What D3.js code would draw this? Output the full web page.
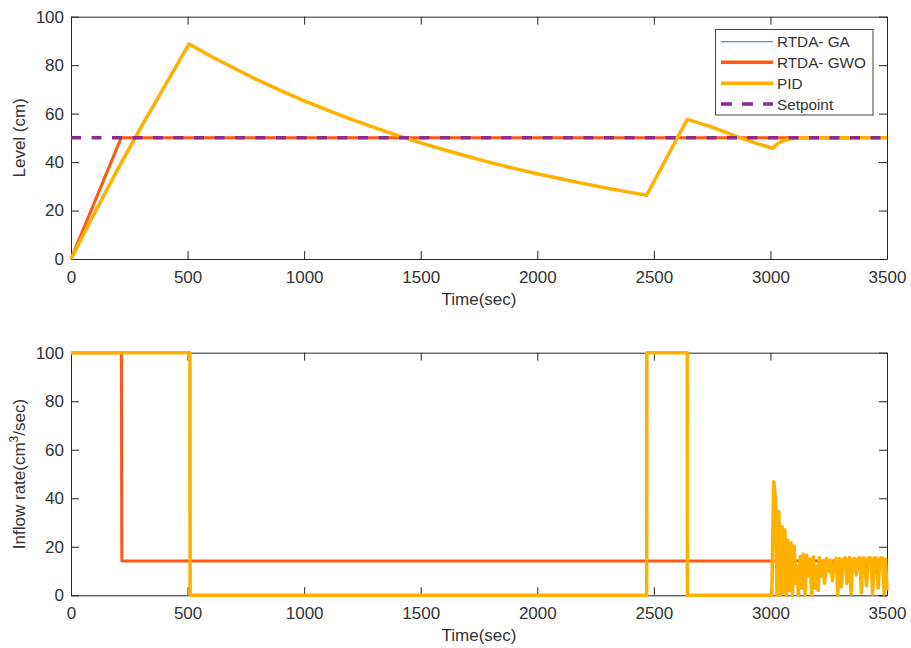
<!DOCTYPE html>
<html>
<head>
<meta charset="utf-8">
<script src="https://cdn.jsdelivr.net/npm/d3@7"></script>
<style>
  body { margin: 0; background: #fff; }
  text { font-family: "Liberation Sans", Arial, sans-serif; fill: #333; }
</style>
</head>
<body>
<div id="chart-area"></div>
<script>
// chart size
var width = 911,
	height = 648;

// ---- data ----
var timeTicks = [0, 500, 1000, 1500, 2000, 2500, 3000, 3500];
var valueTicks = [0, 20, 40, 60, 80, 100];

// top plot: tank level (cm) - pairs of [time, value]
var levelGA = [[0, 0], [216, 50], [3500, 50]];
var levelGWO = [[0, 0], [215, 50], [3500, 50]];
var levelPID = [[0, 0], [100, 18.8], [200, 37], [300, 54.3], [400, 71], [506, 88.7],
	[600, 83.7], [700, 78.7], [800, 73.9], [900, 69.5], [1000, 65.3], [1100, 61.4],
	[1200, 57.7], [1300, 54.3], [1400, 51], [1500, 47.9], [1600, 45.1], [1700, 42.4],
	[1800, 39.8], [1900, 37.4], [2000, 35.2], [2100, 33.1], [2200, 31.1], [2300, 29.2],
	[2400, 27.5], [2469, 26.3], [2643, 57.6], [2750, 54.4], [2859, 50.4], [2950, 47.4],
	[3010, 45.7], [3030, 47.6], [3050, 48.7], [3080, 49.5], [3120, 49.95], [3500, 50]];
var setpoint = [[0, 50], [3500, 50]];

// bottom plot: inflow rate (cm3/sec)
var inflowGA = [[0, 100], [217, 100], [219, 14.1], [3500, 14.1]];
var inflowGWO = [[0, 100], [216, 100], [218, 14.1], [3500, 14.1]];
var inflowPID = [[0, 100], [510, 100], [511, 0], [2469, 0], [2470, 100], [2643, 100], [2644, 0],
	[3006, 0], [3014, 46.8], [3022, 40], [3028, 0], [3036, 34.5], [3043, 0], [3050, 28.3],
	[3056, 1], [3062, 27], [3068, 0], [3074, 22.8], [3080, 2], [3088, 21.7], [3094, 0],
	[3102, 20.3], [3108, 5], [3114, 12], [3120, 0], [3128, 16], [3134, 3], [3141, 17],
	[3148, 0], [3156, 16.6], [3163, 8], [3170, 15], [3177, 0], [3184, 15.9], [3192, 3],
	[3200, 12], [3205, 2], [3210, 15.6], [3218, 8], [3225, 14], [3232, 5], [3241, 15.2],
	[3250, 10], [3258, 14.5], [3266, 6], [3274, 14], [3282, 15.2], [3289, 0], [3296, 15.2],
	[3304, 3.5], [3312, 14.8], [3321, 15.4], [3328, 4.9], [3339, 15.6], [3346, 0.5],
	[3353, 15], [3360, 15.2], [3368, 8.4], [3376, 15.4], [3384, 15.4], [3390, 1],
	[3396, 15.4], [3404, 15.4], [3412, 4], [3420, 15.4], [3432, 15.4], [3438, 0.5],
	[3446, 15.4], [3454, 15.4], [3462, 3], [3470, 15.4], [3481, 15.4], [3488, 0.5],
	[3494, 15], [3500, 2]];

var legendNames = ["RTDA- GA", "RTDA- GWO", "PID", "Setpoint"];
var colors = {ga: "#1f77c0", gwo: "#ff5714", pid: "#ffb100", sp: "#8c2d8c"};

var svg = d3.select("#chart-area").append("svg")
	.attr("width", width)
	.attr("height", height);

var x = d3.scaleLinear().domain([0, 3500]).range([71, 887]);

// draws one boxed axes (MATLAB style: ticks inward on all four sides)
function drawAxes(yTop, yBottom, ylabel) {
	var y = d3.scaleLinear().domain([0, 100]).range([yBottom, yTop]);
	var g = svg.append("g");
	var tl = 8;

	g.append("g").attr("transform", "translate(0," + yBottom + ")")
		.call(d3.axisBottom(x).tickValues(timeTicks).tickFormat(d3.format("d"))
			.tickSizeInner(-tl).tickSizeOuter(0).tickPadding(12));
	g.append("g").attr("transform", "translate(0," + yTop + ")")
		.call(d3.axisTop(x).tickValues(timeTicks).tickSizeInner(-tl).tickSizeOuter(0).tickFormat(""));
	g.append("g").attr("transform", "translate(71,0)")
		.call(d3.axisLeft(y).tickValues(valueTicks).tickFormat(d3.format("d"))
			.tickSizeInner(-tl).tickSizeOuter(0).tickPadding(7));
	g.append("g").attr("transform", "translate(887,0)")
		.call(d3.axisRight(y).tickValues(valueTicks).tickSizeInner(-tl).tickSizeOuter(0).tickFormat(""));

	g.selectAll(".domain, .tick line").attr("stroke", "#262626").attr("stroke-width", 1);
	g.selectAll(".tick text").attr("font-size", "17px").attr("fill", "#3a3a3a")
		.attr("font-family", "Liberation Sans, Arial, sans-serif");

	svg.append("text")
		.attr("x", 479)
		.attr("y", yBottom + 46)
		.attr("text-anchor", "middle")
		.attr("font-size", "17px")
		.text("Time(sec)");

	var yl = svg.append("text")
		.attr("transform", "translate(25," + ((yTop + yBottom) / 2) + ") rotate(-90)")
		.attr("text-anchor", "middle")
		.attr("font-size", "17px");
	if (ylabel === "inflow") {
		yl.append("tspan").text("Inflow rate(cm");
		yl.append("tspan").attr("baseline-shift", "super").attr("font-size", "12px").text("3");
		yl.append("tspan").text("/sec)");
	} else {
		yl.text(ylabel);
	}
	return y;
}

function drawLine(data, y, color, w, dash) {
	var line = d3.line()
		.x(function(d) { return x(d[0]); })
		.y(function(d) { return y(d[1]); });
	svg.append("path")
		.datum(data)
		.attr("d", line)
		.attr("fill", "none")
		.attr("stroke", color)
		.attr("stroke-width", w)
		.attr("stroke-linejoin", "round")
		.attr("stroke-dasharray", dash || null);
}

// top plot
var yTop = drawAxes(16.7, 259, "Level (cm)");
drawLine(levelGA, yTop, colors.ga, 1);
drawLine(levelGWO, yTop, colors.gwo, 3);
drawLine(levelPID, yTop, colors.pid, 3.5);
drawLine(setpoint, yTop, colors.sp, 3.5, "10,10.5");

// bottom plot
var yBot = drawAxes(352.7, 595.3, "inflow");
drawLine(inflowGA, yBot, colors.ga, 1);
drawLine(inflowGWO, yBot, colors.gwo, 3);
drawLine(inflowPID, yBot, colors.pid, 3.5);

// legend
var legend = svg.append("g");
legend.append("rect")
	.attr("x", 715.5).attr("y", 29.5)
	.attr("width", 157.5).attr("height", 85.5)
	.attr("fill", "#fff")
	.attr("stroke", "#444")
	.attr("stroke-width", 1);
var legendY = [41.7, 62.3, 83.3, 104];
var legendStyle = [[colors.ga, 1, null], [colors.gwo, 3.5, null], [colors.pid, 3.5, null], [colors.sp, 3.5, "11,10"]];
legendNames.forEach(function(name, i) {
	legend.append("line")
		.attr("x1", 721).attr("x2", 773)
		.attr("y1", legendY[i]).attr("y2", legendY[i])
		.attr("stroke", legendStyle[i][0])
		.attr("stroke-width", legendStyle[i][1])
		.attr("stroke-dasharray", legendStyle[i][2]);
	legend.append("text")
		.attr("x", 777)
		.attr("y", legendY[i] + 5.5)
		.attr("font-size", "15.3px")
		.attr("fill", "#111")
		.text(name);
});
</script>
</body>
</html>
